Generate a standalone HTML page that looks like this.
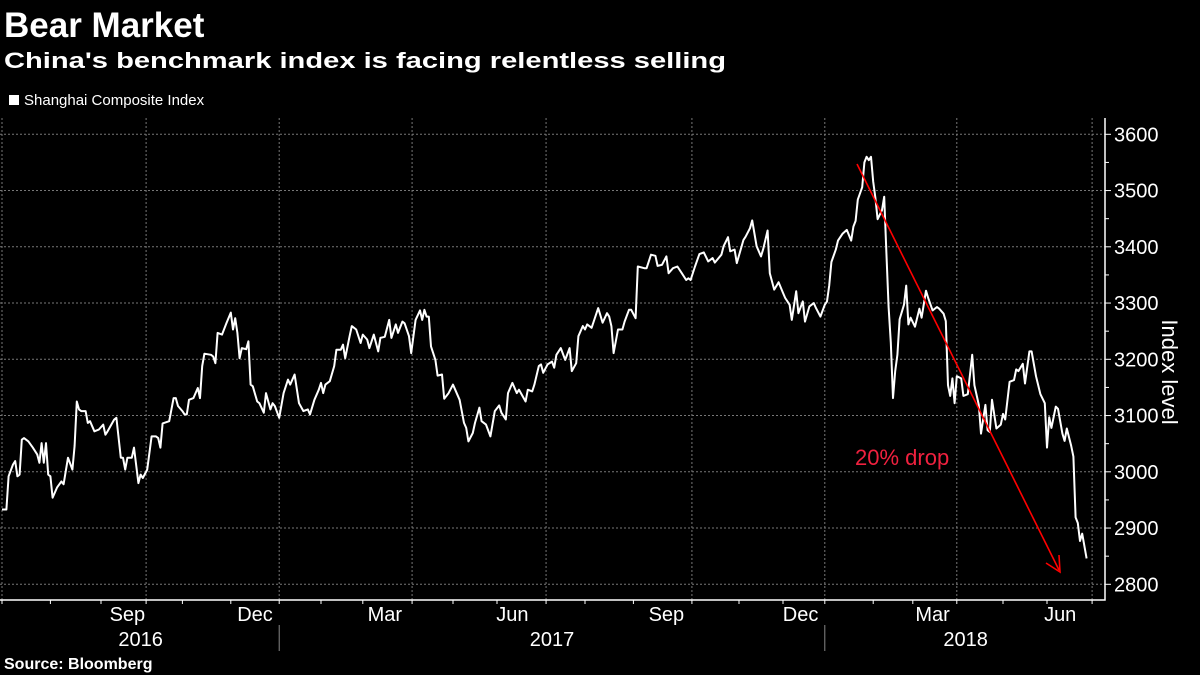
<!DOCTYPE html>
<html><head><meta charset="utf-8"><style>
html,body{margin:0;padding:0;background:#000;}
svg{display:block;font-family:"Liberation Sans",sans-serif;}
</style></head><body>
<svg id="chart" width="1200" height="675" viewBox="0 0 1200 675">
<text x="4" y="37" fill="#fff" font-size="35" font-weight="bold">Bear Market</text>
<text x="4" y="68" fill="#fff" font-size="22" font-weight="bold" textLength="722" lengthAdjust="spacingAndGlyphs">China's benchmark index is facing relentless selling</text>
<rect x="9" y="95" width="10" height="10" fill="#fff"/>
<text x="24" y="105" fill="#fff" font-size="15">Shanghai Composite Index</text>
<g id="grid"></g><g id="axes"></g><g id="series"></g>
<text x="855" y="465" fill="#f0213f" font-size="22">20% drop</text>
<line x1="857" y1="164" x2="1059" y2="570" stroke="#f00" stroke-width="1.6"/>
<polyline points="1046,563 1060,572 1059,555" fill="none" stroke="#f00" stroke-width="1.6"/>
<text x="1162" y="372" fill="#fff" font-size="22" transform="rotate(90 1162 372)" text-anchor="middle">Index level</text>
<text x="4" y="669" fill="#fff" font-size="16" font-weight="bold">Source: Bloomberg</text>
</svg>
<script>
const days=[0,2,3,5,6,7,8,9,10,12,14,16,17,18,19,20,21,22,23,25,27,28,30,32,33,34,35,36,38,39,40,42,44,46,47,48,51,52,54,55,56,57,59,60,62,63,64,66,68,70,71,72,73,76,78,79,80,82,83,84,85,87,89,90,91,92,95,96,97,98,100,102,104,105,106,107,108,109,111,112,113,114,116,117,119,120,122,123,124,126,128,130,131,133,135,137,139,140,142,144,145,146,147,149,151,152,154,155,156,158,159,161,163,164,166,167,169,171,172,174,176,177,179,180,182,183,185,186,188,190,191,192,193,194,195,197,198,200,201,203,205,206,208,210,211,212,214,215,217,218,220,222,224,226,227,229,230,232,234,235,238,239,241,242,244,245,246,248,250,251,252,254,256,258,259,261,262,264,265,266,268,271,273,275,276,277,278,280,282,283,285,286,288,289,292,293,295,297,298,300,302,303,305,307,309,311,312,313,315,317,319,321,323,324,327,328,330,331,333,334,337,338,340,341,343,345,346,348,349,351,353,355,356,358,359,361,362,364,365,367,369,370,372,374,375,376,377,379,380,382,384,386,387,388,389,391,392,393,394,395,396,397,398,400,401,402,403,404,405,406,407,408,410,411,412,413,415,417,418,420,421,423,425,426,428,429,430,431,432,433,434,436,437,439,441,442,444,445,447,448,449,450,452,454,455,456,458,460,461,462,464,465,467,468,470,472,474,475,476,477,479,480,482,483,484,486,487,488,489,490,491,493];
const values=[2933,2933,2992,3013,3019,2992,2995,3057,3060,3054,3043,3031,3016,3051,3016,3051,2995,2992,2954,2972,2983,2978,3025,3004,3046,3125,3111,3108,3108,3087,3090,3072,3075,3084,3066,3072,3093,3096,3025,3025,3004,3025,3025,3043,2980,2995,2989,3004,3063,3063,3060,3043,3086,3090,3131,3131,3117,3108,3102,3102,3128,3131,3149,3131,3188,3210,3208,3205,3193,3247,3244,3264,3283,3253,3273,3247,3202,3220,3218,3232,3155,3152,3125,3122,3105,3140,3111,3122,3117,3096,3140,3164,3155,3173,3122,3108,3111,3102,3128,3146,3158,3140,3155,3161,3188,3217,3217,3226,3202,3241,3259,3253,3229,3244,3235,3220,3244,3214,3238,3240,3270,3238,3262,3247,3267,3264,3241,3211,3270,3287,3270,3288,3276,3276,3223,3199,3171,3173,3130,3140,3155,3146,3128,3087,3078,3054,3069,3087,3114,3090,3084,3063,3108,3118,3105,3093,3140,3158,3140,3146,3125,3146,3143,3155,3188,3191,3176,3191,3196,3185,3208,3220,3199,3220,3179,3193,3241,3259,3253,3262,3256,3291,3265,3282,3276,3259,3211,3253,3253,3267,3288,3288,3273,3365,3362,3362,3386,3384,3366,3368,3383,3353,3362,3365,3353,3341,3344,3341,3365,3387,3390,3374,3380,3372,3386,3401,3417,3392,3395,3371,3412,3418,3433,3447,3401,3383,3396,3429,3353,3324,3337,3318,3309,3297,3270,3321,3282,3303,3267,3294,3300,3291,3276,3297,3303,3331,3373,3395,3411,3423,3430,3411,3436,3446,3484,3506,3550,3560,3554,3560,3516,3487,3449,3465,3489,3389,3293,3230,3131,3179,3208,3271,3297,3331,3262,3274,3258,3290,3274,3322,3309,3287,3293,3290,3281,3268,3154,3135,3166,3122,3170,3166,3135,3138,3208,3154,3119,3068,3119,3074,3071,3128,3077,3084,3103,3093,3160,3163,3182,3179,3192,3157,3214,3214,3170,3138,3122,3043,3097,3078,3116,3112,3068,3055,3077,3046,3027,2919,2909,2877,2890,2846];
const yTicks=[2800,2900,3000,3100,3200,3300,3400,3500,3600];
const gridDays=[65.5,126,186.4,247.3,313.6,374,434,495.5];
const monthTickDays=[0,22,45,65.5,82,104,126,145,164,186.4,205,225,247.3,265,287,313.6,335,355,374,396,414,434,455,475,495.5];
const monthLabels=["Sep","Dec","Mar","Jun","Sep","Dec","Mar","Jun"];
const monthLabelDays=[57,115,174,232,302,363,423,481];
const yearLabels=["2016","2017","2018"];
const yearLabelDays=[63,250,438];
const yearSepDays=[126,374];

const NS="http://www.w3.org/2000/svg";
const X=d=>2+d*2.2;
const Y=v=>134.3+(3600-v)*0.5625;
function mk(tag,attrs,parent,txt){const e=document.createElementNS(NS,tag);for(const k in attrs)e.setAttribute(k,attrs[k]);if(txt!==undefined)e.textContent=txt;parent.appendChild(e);return e;}
const grid=document.getElementById('grid'),axes=document.getElementById('axes'),series=document.getElementById('series');
const yMax=yTicks[yTicks.length-1];
yTicks.forEach(v=>{
  const l=mk('line',{x1:0,x2:1105,y1:Y(v),y2:Y(v),stroke:'#777','stroke-width':1,'stroke-dasharray':'2,2'},grid);
  
  
  const t=mk('text',{x:1114,y:Y(v)+7,fill:'#fff','font-size':20},axes,String(v));
  
  
  const tk=mk('line',{x1:1105,x2:1111,y1:Y(v),y2:Y(v),stroke:'#fff','stroke-width':1},axes);
  
  
  if(v<yMax){
    const mt=mk('line',{x1:1105,x2:1109,y1:Y(v+50),y2:Y(v+50),stroke:'#fff','stroke-width':1},axes);
    
    
  }
});
[2].concat(gridDays.map(X)).forEach(x=>{
  const l=mk('line',{x1:x,x2:x,y1:118,y2:600,stroke:'#777','stroke-width':1,'stroke-dasharray':'2,2'},grid);
  
  
});
const ax=mk('path',{d:'M0 600 H1105 V118',fill:'none',stroke:'#fff','stroke-width':1.5},axes);


monthTickDays.forEach(d=>{
  const t=mk('line',{x1:X(d),x2:X(d),y1:600,y2:604,stroke:'#fff','stroke-width':1},axes);
  
  
});
monthLabels.forEach((m,i)=>{
  const t=mk('text',{x:X(monthLabelDays[i]),y:621,fill:'#fff','font-size':20,'text-anchor':'middle'},axes,m);
  
  
});
yearLabels.forEach((y,i)=>{
  const t=mk('text',{x:X(yearLabelDays[i]),y:646,fill:'#fff','font-size':20,'text-anchor':'middle'},axes,y);
  
  
});
yearSepDays.forEach(d=>{
  const l=mk('line',{x1:X(d),x2:X(d),y1:625,y2:651,stroke:'#888','stroke-width':1},axes);
  
  
});
const pts=days.map((d,i)=>X(d).toFixed(1)+','+Y(values[i]).toFixed(1)).join(' ');
const line=mk('polyline',{points:pts,fill:'none',stroke:'#fff','stroke-width':2,'stroke-linejoin':'round'},series);


</script>
</body></html>
